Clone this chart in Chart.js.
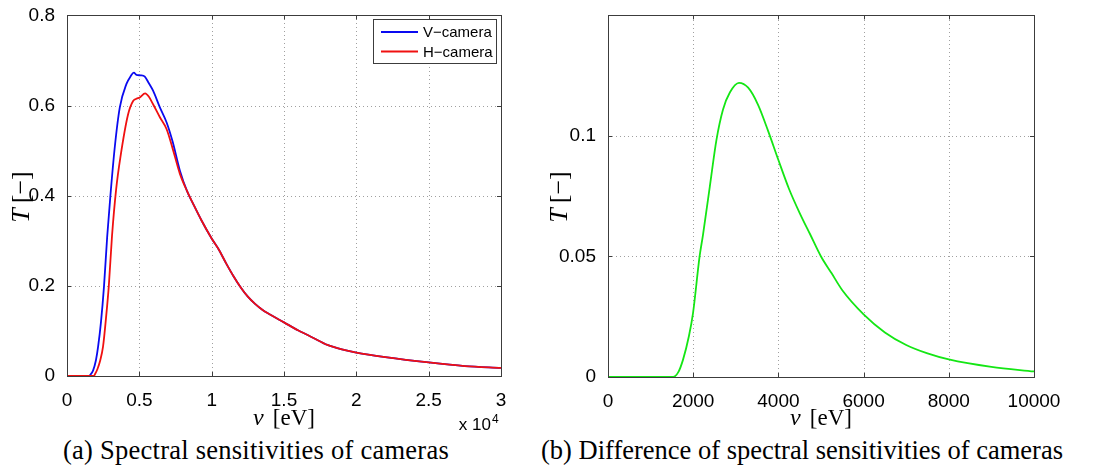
<!DOCTYPE html>
<html>
<head>
<meta charset="utf-8">
<script src="https://cdn.jsdelivr.net/npm/chart.js@4.4.1/dist/chart.umd.min.js"></script>
<style>
  body { margin: 0; background: #fff; width: 1110px; height: 475px; position: relative; overflow: hidden; }
  canvas { position: absolute; top: 0; }
  #left { left: 0; }
  #right { left: 540px; }
  .caption { position: absolute; top: 435px; font-family: "Liberation Serif", serif; font-size: 26.5px; white-space: nowrap; transform: translateX(-50%); color: #000; }
</style>
</head>
<body>
<canvas id="left" width="540" height="434"></canvas>
<canvas id="right" width="570" height="434"></canvas>
<div class="caption" style="left:256px; letter-spacing:0.25px">(a) Spectral sensitivities of cameras</div>
<div class="caption" style="left:802px">(b) Difference of spectral sensitivities of cameras</div>
<script>
// V-camera sensitivity (photon energy in eV)
const vEnergy = [0, 1500, 1600, 1800, 2000, 2150, 2350, 2560, 2780, 3000, 3300, 3650, 4110, 4400, 4620, 4800, 5100, 5380, 5650, 5950, 6420, 6880, 7300, 7800, 8300, 8720,
  9300, 10000, 10500, 11000, 11500, 12000, 12500, 13000, 13500, 14000, 15000, 16000, 17000, 18000, 19000, 20000, 22000, 25000, 27500, 30000];
const vSens = [0, 0, 0.002, 0.012, 0.035, 0.065, 0.12, 0.2, 0.31, 0.4, 0.507, 0.596, 0.648, 0.665, 0.673, 0.668, 0.667, 0.664, 0.65, 0.633, 0.596, 0.563, 0.52, 0.456, 0.41, 0.382,
  0.345, 0.305, 0.28, 0.25, 0.222, 0.197, 0.176, 0.16, 0.147, 0.137, 0.119, 0.101, 0.085, 0.069, 0.059, 0.052, 0.042, 0.03, 0.022, 0.018];

// H-camera sensitivity
const hEnergy = [0, 1850, 1950, 2100, 2300, 2490, 2700, 2890, 3110, 3400, 3690, 4220, 4570, 4800, 5030, 5400, 5650, 5950, 6420, 6880, 7300, 7800, 8300, 8720,
  9300, 10000, 10500, 11000, 11500, 12000, 12500, 13000, 13500, 14000, 15000, 16000, 17000, 18000, 19000, 20000, 22000, 25000, 27500, 30000];
const hSens = [0, 0, 0.005, 0.015, 0.035, 0.065, 0.13, 0.2, 0.31, 0.415, 0.485, 0.58, 0.61, 0.615, 0.618, 0.627, 0.62, 0.603, 0.574, 0.548, 0.505, 0.449, 0.41, 0.382,
  0.345, 0.305, 0.28, 0.25, 0.222, 0.197, 0.176, 0.16, 0.147, 0.137, 0.119, 0.101, 0.085, 0.069, 0.059, 0.052, 0.042, 0.03, 0.022, 0.018];

// difference V - H
const diffEnergy = [0, 1000, 1526, 1650, 1760, 1900, 1995, 2150, 2230, 2390, 2545, 2700, 2860, 3075, 3290, 3520, 3760, 4000, 4250, 4500, 4750, 5000, 5250, 5500, 6000, 6500, 7000, 7500, 8000, 9000, 10000];
const diffSens = [0, 0, 0, 0.002, 0.0071, 0.017, 0.0264, 0.05, 0.059, 0.079, 0.0983, 0.111, 0.118, 0.122, 0.12, 0.113, 0.102, 0.09, 0.078, 0.068, 0.059, 0.05, 0.043, 0.036, 0.026, 0.0185, 0.0133, 0.0098, 0.0073, 0.0042, 0.0023];

const leftYTicks = [0, 0.2, 0.4, 0.6, 0.8];
const rightYTicks = [0, 0.05, 0.1];

const toPoints = (xs, ys) => xs.map((x, i) => ({ x: x, y: ys[i] }));

const SANS = '"Liberation Sans", Arial, sans-serif';
const SERIF = '"Liberation Serif", "Times New Roman", serif';

// draw a row of text pieces with different fonts, centred on (cx, y)
function drawParts(ctx, parts, cx, y) {
  let total = 0;
  parts.forEach(p => { ctx.font = p.font; p.w = ctx.measureText(p.text).width; total += p.w + (p.gap || 0); });
  let x = cx - total / 2;
  ctx.textAlign = 'left';
  ctx.textBaseline = 'alphabetic';
  parts.forEach(p => { x += p.gap || 0; ctx.font = p.font; ctx.fillText(p.text, x, y); x += p.w; });
}

const framePlugin = {
  id: 'frame',
  beforeDatasetsDraw(chart) {
    // dotted grid, matlab style
    const { ctx, chartArea: a } = chart;
    const xs = chart.scales.x, ys = chart.scales.y;
    ctx.save();
    ctx.strokeStyle = '#a0a0a0';
    ctx.lineWidth = 1;
    ctx.setLineDash([1, 3]);
    ctx.beginPath();
    xs.ticks.forEach(t => {
      const px = Math.round(xs.getPixelForValue(t.value)) + 0.5;
      if (px < a.left + 2 || px > a.right - 2) return;
      ctx.moveTo(px, a.bottom); ctx.lineTo(px, a.top);
    });
    ys.ticks.forEach(t => {
      const py = Math.round(ys.getPixelForValue(t.value)) + 0.5;
      if (py < a.top + 2 || py > a.bottom - 2) return;
      ctx.moveTo(a.left, py); ctx.lineTo(a.right, py);
    });
    ctx.stroke();
    ctx.restore();
  },
  afterDraw(chart, args, opts) {
    const { ctx, chartArea: a } = chart;
    const xs = chart.scales.x, ys = chart.scales.y;
    ctx.save();
    ctx.setLineDash([]);
    ctx.strokeStyle = '#3c3c3c';
    ctx.lineWidth = 1;
    ctx.beginPath();
    xs.ticks.forEach(t => {
      const px = Math.round(xs.getPixelForValue(t.value)) + 0.5;
      ctx.moveTo(px, a.bottom); ctx.lineTo(px, a.bottom - 4);
      ctx.moveTo(px, a.top); ctx.lineTo(px, a.top + 4);
    });
    ys.ticks.forEach(t => {
      const py = Math.round(ys.getPixelForValue(t.value)) + 0.5;
      ctx.moveTo(a.left, py); ctx.lineTo(a.left + 4, py);
      ctx.moveTo(a.right, py); ctx.lineTo(a.right - 4, py);
    });
    ctx.stroke();
    ctx.strokeRect(Math.round(a.left) + 0.5, Math.round(a.top) + 0.5, Math.round(a.right - a.left), Math.round(a.bottom - a.top));

    ctx.fillStyle = '#000';
    // x title
    drawParts(ctx, [
      { text: 'ν', font: 'italic 24px ' + SERIF },
      { text: '[eV]', font: '23px ' + SERIF, gap: 9 }
    ], (a.left + a.right) / 2, opts.xTitleY);
    // y title
    ctx.save();
    ctx.translate(opts.yTitleX, 197);
    ctx.rotate(-Math.PI / 2);
    drawParts(ctx, [
      { text: 'T', font: 'italic 26px ' + SERIF },
      { text: '[−]', font: '26px ' + SERIF, gap: 5 }
    ], 0, 0);
    ctx.restore();

    if (opts.exponent) {
      ctx.font = '17px ' + SANS;
      ctx.textAlign = 'right';
      ctx.textBaseline = 'alphabetic';
      ctx.fillText('x 10', a.right - 10, 430);
      ctx.font = '12px ' + SANS;
      ctx.textAlign = 'left';
      ctx.fillText('4', a.right - 9, 423);
    }

    if (opts.legend) {
      const bx = 373, by = 19, bw = 123, bh = 44;
      ctx.fillStyle = '#fff';
      ctx.fillRect(bx, by, bw, bh);
      ctx.strokeStyle = '#3c3c3c';
      ctx.strokeRect(bx + 0.5, by + 0.5, bw, bh);
      chart.data.datasets.forEach((ds, i) => {
        const ly = by + 13 + i * 19.5;
        ctx.strokeStyle = ds.borderColor;
        ctx.lineWidth = 1.8;
        ctx.beginPath(); ctx.moveTo(bx + 8, ly); ctx.lineTo(bx + 45, ly); ctx.stroke();
        ctx.fillStyle = '#000';
        ctx.font = '15px ' + SANS;
        ctx.textAlign = 'left';
        ctx.textBaseline = 'middle';
        ctx.fillText(ds.label, bx + 50, ly + 1);
      });
    }
    ctx.restore();
  }
};

function axisCommon() {
  return {
    grid: { display: false },
    border: { display: false },
    ticks: { color: '#000', font: { family: SANS, size: 19 } }
  };
}

function makeChart(id, datasets, cfg) {
  const xAxis = axisCommon();
  xAxis.type = 'linear';
  xAxis.min = cfg.xMin; xAxis.max = cfg.xMax;
  xAxis.ticks.stepSize = cfg.xStep;
  xAxis.ticks.padding = 5;
  xAxis.ticks.autoSkip = false;
  xAxis.ticks.maxRotation = 0;
  xAxis.ticks.callback = cfg.xLabel;
  xAxis.afterFit = s => { s.height = 434 - cfg.bottom; };

  const yAxis = axisCommon();
  yAxis.min = 0; yAxis.max = cfg.yMax;
  yAxis.ticks.padding = 4;
  yAxis.ticks.callback = v => String(v);
  yAxis.afterBuildTicks = s => { s.ticks = cfg.yTicks.map(v => ({ value: v })); };
  yAxis.afterFit = s => { s.width = cfg.left; };

  return new Chart(document.getElementById(id), {
    type: 'line',
    data: { datasets: datasets },
    options: {
      responsive: false,
      animation: false,
      devicePixelRatio: 1,
      layout: { padding: { left: 0, top: 14, right: cfg.right, bottom: 0 } },
      elements: { point: { radius: 0 }, line: { borderWidth: 1.8, cubicInterpolationMode: 'monotone' } },
      scales: { x: xAxis, y: yAxis },
      plugins: {
        legend: { display: false },
        tooltip: { enabled: false },
        frame: cfg.frame
      }
    },
    plugins: [framePlugin]
  });
}

// red is plotted after blue in the original, so it sits on top (lower order = drawn last)
makeChart('left', [
  { label: 'V−camera', data: toPoints(vEnergy, vSens), borderColor: '#0a0af0', fill: false, order: 1 },
  { label: 'H−camera', data: toPoints(hEnergy, hSens), borderColor: '#f01010', fill: false, order: 0 }
], {
  xMin: 0, xMax: 30000, xStep: 5000, xLabel: v => String(v / 10000),
  yMax: 0.8, yTicks: leftYTicks, left: 67, right: 39, bottom: 376,
  frame: { xTitleY: 425, yTitleX: 29, exponent: true, legend: true }
});

makeChart('right', [
  { label: 'difference', data: toPoints(diffEnergy, diffSens), borderColor: '#14e614', fill: false }
], {
  xMin: 0, xMax: 10000, xStep: 2000, xLabel: v => String(v),
  yMax: 0.15, yTicks: rightYTicks, left: 68, right: 76, bottom: 377,
  frame: { xTitleY: 425, yTitleX: 27, exponent: false, legend: false }
});
</script>
</body>
</html>
